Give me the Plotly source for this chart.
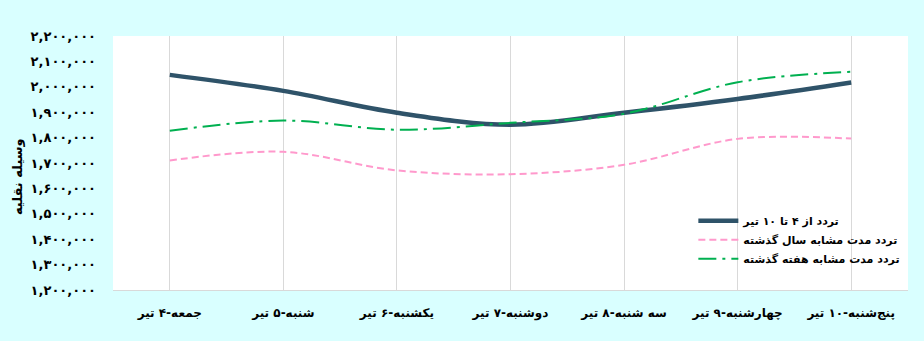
import plotly.graph_objects as go

categories = ["جمعه-۴ تیر", "شنبه-۵ تیر", "یکشنبه-۶ تیر", "دوشنبه-۷ تیر",
              "سه شنبه-۸ تیر", "چهارشنبه-۹ تیر", "پنج‌شنبه-۱۰ تیر"]
series_names = ["تردد از ۴ تا ۱۰ تیر", "تردد مدت مشابه سال گذشته", "تردد مدت مشابه هفته گذشته"]
current_week = [2047000, 1984000, 1898000, 1851000, 1898000, 1952000, 2017000]
last_year = [1710000, 1744000, 1671000, 1656000, 1693000, 1795000, 1796000]
last_week = [1827000, 1867000, 1831000, 1858000, 1894000, 2018000, 2059000]
tick_vals = [1200000 + 100000 * i for i in range(11)]
tick_text = ["۱,۲۰۰,۰۰۰", "۱,۳۰۰,۰۰۰", "۱,۴۰۰,۰۰۰", "۱,۵۰۰,۰۰۰", "۱,۶۰۰,۰۰۰", "۱,۷۰۰,۰۰۰",
             "۱,۸۰۰,۰۰۰", "۱,۹۰۰,۰۰۰", "۲,۰۰۰,۰۰۰", "۲,۱۰۰,۰۰۰", "۲,۲۰۰,۰۰۰"]
y_title = "وسیله نقلیه"

font_family = "DejaVu Sans"

fig = go.Figure()
fig.add_trace(go.Scatter(x=categories, y=current_week, name=series_names[0], mode="lines",
                         line=dict(color="#2F5369", width=4.5, shape="spline", smoothing=1)))
fig.add_trace(go.Scatter(x=categories, y=last_year, name=series_names[1], mode="lines",
                         line=dict(color="#FF99CC", width=2, dash="7px,4px", shape="spline", smoothing=1)))
fig.add_trace(go.Scatter(x=categories, y=last_week, name=series_names[2], mode="lines",
                         line=dict(color="#00B050", width=2, dash="18px,6px,3px,6px", shape="spline", smoothing=1)))

fig.add_annotation(text=y_title, xref="paper", yref="paper", x=-0.12, y=0.447,
                   xanchor="center", yanchor="middle", textangle=-90, showarrow=False,
                   font=dict(size=13, family=font_family, weight="bold", color="#000000"))

fig.update_layout(
    width=924, height=341,
    margin=dict(l=113, r=16, t=36, b=51),
    paper_bgcolor="#D9FFFF",
    plot_bgcolor="#FFFFFF",
    font=dict(family=font_family, size=11, color="#000000", weight="bold"),
    showlegend=True,
    legend=dict(x=0.73, y=0.33, xanchor="left", yanchor="top", bgcolor="rgba(0,0,0,0)",
                font=dict(size=11, family=font_family, weight="bold"),
                tracegroupgap=0, itemwidth=40),
    xaxis=dict(type="category", range=[-0.5, 6.5], showgrid=True, gridcolor="#D9D9D9",
               gridwidth=1, showline=True, linecolor="#D9D9D9", linewidth=1,
               ticks="", ticklabelstandoff=12, tickfont=dict(size=12, weight="bold"),
               zeroline=False, fixedrange=True),
    yaxis=dict(range=[1200000, 2200000], tickvals=tick_vals, ticktext=tick_text,
               showgrid=False, zeroline=False, showline=False, ticks="",
               ticklabelstandoff=16, tickfont=dict(size=13, weight="bold")),
)

fig.write_html("out.html")
